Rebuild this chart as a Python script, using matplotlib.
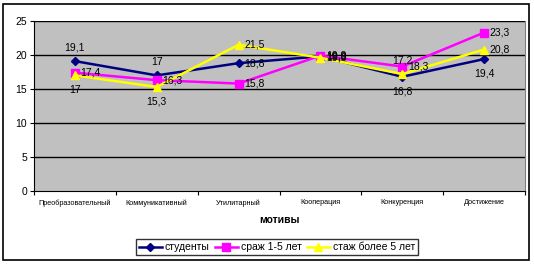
import matplotlib.pyplot as plt
from matplotlib.patches import Rectangle

plt.rcParams["font.family"] = ["Liberation Sans", "DejaVu Sans"]

categories = ["Преобразовательный", "Коммуникативный", "Утилитарный",
              "Кооперация", "Конкуренция", "Достижение"]
students = [19.1, 17, 18.8, 19.8, 16.8, 19.4]
exp_1_5 = [17.4, 16.3, 15.8, 19.9, 18.3, 23.3]
exp_5_plus = [17, 15.3, 21.5, 19.6, 17.2, 20.8]
series_names = ["студенты", "сраж 1-5 лет", "стаж более 5 лет"]

# where each data label sits: r = right, a = above, b = below
label_pos = [
    ["a", "a", "r", "r", "b", "b"],
    ["r", "r", "r", "r", "r", "r"],
    ["b", "b", "r", "r", "a", "r"],
]

fig = plt.figure(figsize=(5.34, 2.65), dpi=100)
fig.patches.append(Rectangle((3 / 534, 1 - 260 / 265), 526 / 534, 256 / 265,
                             transform=fig.transFigure, fill=False,
                             edgecolor="black", linewidth=1.2))

ax = fig.add_axes([34 / 534, 1 - 191 / 265, 491 / 534, 170 / 265])
ax.set_facecolor("#c0c0c0")

x = [i + 0.5 for i in range(len(categories))]
styles = [
    (students, "#000080", "D", 4),
    (exp_1_5, "#ff00ff", "s", 6),
    (exp_5_plus, "#ffff00", "^", 6),
]

for i, (vals, color, marker, ms) in enumerate(styles):
    ax.plot(x, vals, color=color, marker=marker, markersize=ms, linewidth=1.8,
            label=series_names[i], zorder=3)
    for xi, v, pos in zip(x, vals, label_pos[i]):
        txt = ("%g" % v).replace(".", ",")
        if pos == "r":
            ax.annotate(txt, (xi, v), xytext=(4, 0), textcoords="offset points",
                        ha="left", va="center", fontsize=7.5, zorder=4)
        elif pos == "a":
            ax.annotate(txt, (xi, v), xytext=(0, 6), textcoords="offset points",
                        ha="center", va="bottom", fontsize=7.5, zorder=4)
        else:
            ax.annotate(txt, (xi, v), xytext=(0, -7), textcoords="offset points",
                        ha="center", va="top", fontsize=7.5, zorder=4)

ax.set_xlim(0, len(categories))
ax.set_ylim(0, 25)
ax.set_yticks([0, 5, 10, 15, 20, 25])
ax.set_yticklabels(["0", "5", "10", "15", "20", "25"], fontsize=7.5)
for yv in [5, 10, 15, 20, 25]:
    ax.axhline(yv, color="black", linewidth=1, zorder=1)

ax.set_xticks(range(len(categories) + 1))
ax.set_xticklabels([])
ax.set_xticks(x, minor=True)
ax.set_xticklabels(categories, minor=True, fontsize=5.2)
ax.tick_params(axis="x", which="minor", length=0, pad=6)
ax.tick_params(axis="x", which="major", length=3, direction="out")
ax.tick_params(axis="y", length=3, direction="out", pad=2)

ax.spines["right"].set_color("#808080")
ax.spines["top"].set_visible(False)

fig.text(0.524, 1 - 220 / 265, "мотивы", ha="center", va="center",
         fontsize=7.5, fontweight="bold")

leg = fig.legend(loc="center", bbox_to_anchor=(277 / 534, 1 - 247 / 265),
                 ncol=3, fontsize=7.5, frameon=True, fancybox=False,
                 edgecolor="black", handlelength=2.2, columnspacing=0.5,
                 handletextpad=0.3, borderpad=0.25, handleheight=0.6)
leg.get_frame().set_linewidth(1)

fig.savefig("out.png", dpi=100)
